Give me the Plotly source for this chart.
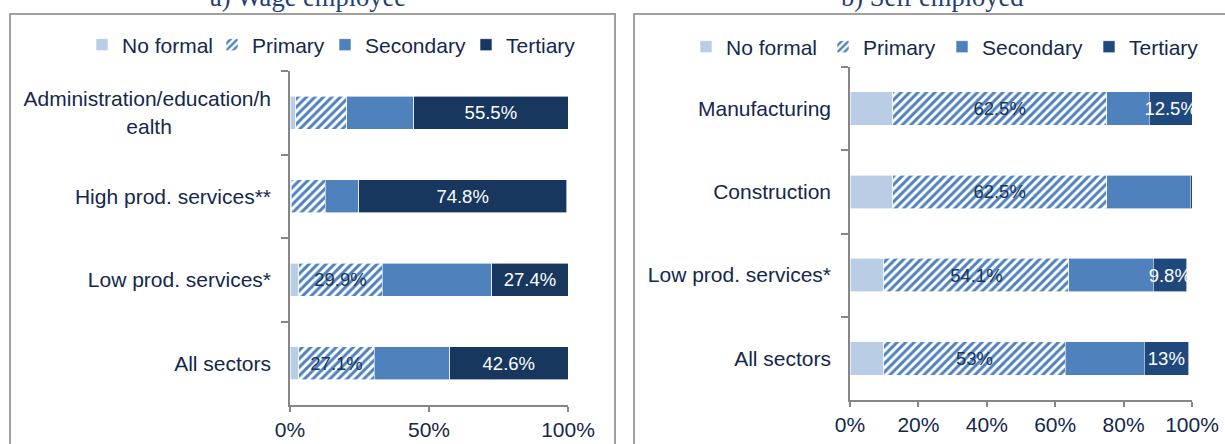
import plotly.graph_objects as go

W, H = 1225, 444

# ---------------- data ----------------
series = ["No formal", "Primary", "Secondary", "Tertiary"]

cats_a = ["Administration/education/health", "High prod. services**",
          "Low prod. services*", "All sectors"]
no_formal_a = [2.0, 0.5, 3.2, 3.2]
primary_a = [18.5, 12.1, 29.9, 27.1]
secondary_a = [24.0, 12.1, 39.5, 27.1]
tertiary_a = [55.5, 74.8, 27.4, 42.6]
primary_lbl_a = ["", "", "29.9%", "27.1%"]
tertiary_lbl_a = ["55.5%", "74.8%", "27.4%", "42.6%"]

cats_b = ["Manufacturing", "Construction", "Low prod. services*", "All sectors"]
no_formal_b = [12.5, 12.5, 9.9, 9.9]
primary_b = [62.5, 62.5, 54.1, 53.0]
secondary_b = [12.5, 24.5, 24.6, 23.1]
tertiary_b = [12.5, 0.7, 9.8, 13.0]
primary_lbl_b = ["62.5%", "62.5%", "54.1%", "53%"]
tertiary_lbl_b = ["12.5%", "", "9.8%", "13%"]

ticks_a = [0, 50, 100]
ticks_b = [0, 20, 40, 60, 80, 100]

titles = ["a) Wage employee", "b) Self employed"]

# ---------------- style ----------------
FONT = "Liberation Sans, Arial, sans-serif"
SERIF = "Liberation Serif, Times New Roman, serif"
TXT = "#14284B"
AX = "#868686"
C_NF = "#B9CDE5"
C_SEC = "#4F81BD"
C_TER = {"a": "#17375E", "b": "#1F497D"}


def disp(c):
    # wrap the long label as in the original
    if c.startswith("Administration"):
        return "Administration/education/h<br>ealth" + "\u00a0" * 17
    return c


def px_x(p):
    return p / W


def px_y(p):
    return 1 - p / H


fig = go.Figure()

panels = [
    ("a", cats_a, [no_formal_a, primary_a, secondary_a, tertiary_a],
     primary_lbl_a, tertiary_lbl_a, "x", "y"),
    ("b", cats_b, [no_formal_b, primary_b, secondary_b, tertiary_b],
     primary_lbl_b, tertiary_lbl_b, "x2", "y2"),
]

leg_idx = 0
for key, cats, vals, plbl, tlbl, xa, ya in panels:
    ycats = [disp(c) for c in cats]
    for i, name in enumerate(series):
        leg_idx += 1
        legname = "legend" if leg_idx == 1 else f"legend{leg_idx}"
        marker = dict(line=dict(width=0.6, color="white"))
        text = None
        tcolor = TXT
        if name == "No formal":
            marker["color"] = C_NF
        elif name == "Primary":
            marker["color"] = "white"
            marker["pattern"] = dict(shape="/", fgcolor=C_SEC, bgcolor="white",
                                     size=6, solidity=0.5, fgopacity=1)
            text = plbl
            tcolor = "#17375E"
        elif name == "Secondary":
            marker["color"] = C_SEC
        else:
            marker["color"] = C_TER[key]
            text = tlbl
            tcolor = "white"
        fig.add_trace(go.Bar(
            y=ycats, x=vals[i], orientation="h", name=name,
            marker=marker, text=text,
            textposition="inside" if text else "none",
            insidetextanchor="middle", textangle=0, constraintext="none",
            textfont=dict(family=FONT, size=18.5, color=tcolor),
            xaxis=xa, yaxis=ya, legend=legname, hoverinfo="x+name",
        ))

# ---------------- layout ----------------
axis_common = dict(showline=True, linecolor=AX, linewidth=1.5, ticks="outside",
                   tickcolor=AX, tickwidth=1.5, showgrid=False, zeroline=False,
                   automargin=False,
                   tickfont=dict(family=FONT, size=21, color=TXT), fixedrange=True)

layout = dict(
    width=W, height=H, margin=dict(l=0, r=0, t=0, b=0, autoexpand=False),
    paper_bgcolor="white", plot_bgcolor="white", showlegend=True,
    barmode="stack", bargap=0.6,
    font=dict(family=FONT, size=21, color=TXT),
    xaxis=dict(domain=[px_x(290), px_x(568)], range=[0, 100], tickvals=ticks_a,
               ticktext=[f"{t}%" for t in ticks_a], ticklen=5, anchor="y",
               **axis_common),
    yaxis=dict(domain=[px_y(405), px_y(71)], type="category", autorange="reversed",
               tickson="boundaries", ticklen=7, ticklabelstandoff=13, anchor="x",
               **axis_common),
    xaxis2=dict(domain=[px_x(850), px_x(1192)], range=[0, 100], tickvals=ticks_b,
                ticktext=[f"{t}%" for t in ticks_b], ticklen=5, anchor="y2",
                **axis_common),
    yaxis2=dict(domain=[px_y(400), px_y(67)], type="category", autorange="reversed",
                tickson="boundaries", ticklen=7, ticklabelstandoff=13, anchor="x2",
                **axis_common),
)

# one legend per entry so each item sits where the original has it
text_starts = [118, 248, 361, 502, 722, 859, 978, 1125]
leg_y = [45] * 4 + [47] * 4
for k, (tx, ty) in enumerate(zip(text_starts, leg_y), start=1):
    lname = "legend" if k == 1 else f"legend{k}"
    layout[lname] = dict(
        x=px_x(tx - 36), y=px_y(ty), xanchor="left", yanchor="middle",
        orientation="h", bgcolor="rgba(0,0,0,0)", borderwidth=0,
        font=dict(family=FONT, size=21, color=TXT), itemclick=False,
        itemdoubleclick=False,
    )

fig.update_layout(**layout)

# panel frames
fig.add_shape(type="rect", xref="paper", yref="paper",
              x0=px_x(10), x1=px_x(615), y0=-0.1, y1=px_y(14),
              line=dict(color="#A0A0A0", width=2), fillcolor="rgba(0,0,0,0)", layer="below")
fig.add_shape(type="rect", xref="paper", yref="paper",
              x0=px_x(634), x1=1.1, y0=-0.1, y1=px_y(14),
              line=dict(color="#A0A0A0", width=2), fillcolor="rgba(0,0,0,0)", layer="below")

# panel titles (cut off at the top as in the original)
for t, cx in zip(titles, [307.5, 932]):
    fig.add_annotation(text=t, xref="paper", yref="paper", x=px_x(cx), y=px_y(14),
                       xanchor="center", yanchor="bottom", showarrow=False,
                       font=dict(family=SERIF, size=26.5, color="#243F73"))

# remove the browser's default body margin so the figure fills the window
fig.write_html("out.html", config={"displayModeBar": False},
               post_script="document.body.style.margin='0px';")
